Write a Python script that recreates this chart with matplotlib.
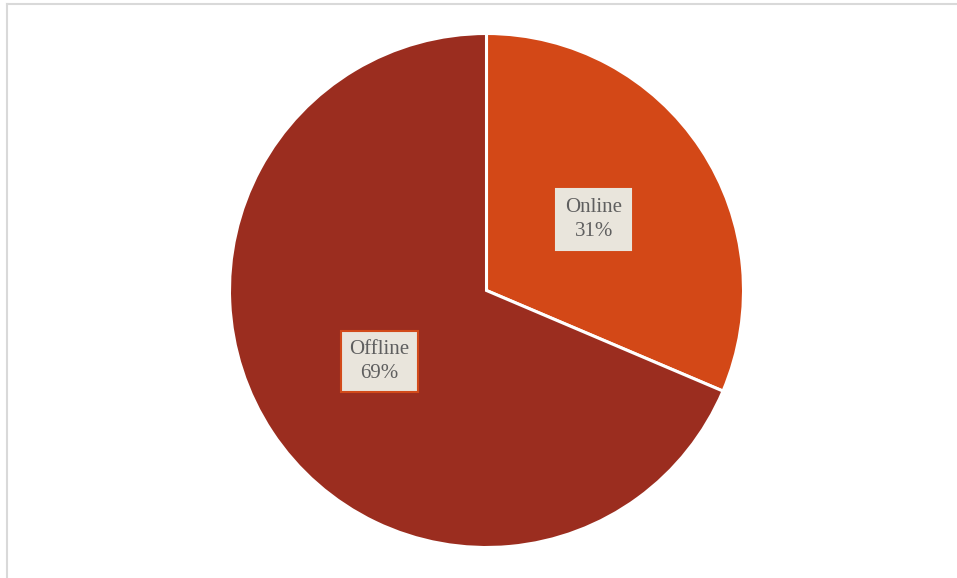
import matplotlib
matplotlib.use("Agg")
import matplotlib.pyplot as plt
from matplotlib.lines import Line2D
import numpy as np

categories = ["Online", "Offline"]
values = [31.4, 68.6]
colors = ["#d34817", "#9b2d1f"]

W, H = 957, 578
fig = plt.figure(figsize=(W / 100, H / 100), dpi=100)
fig.patch.set_facecolor("white")

cx, cy, r = 486.5, 290.5, 257
ax = fig.add_axes([(cx - r) / W, (H - cy - r) / H, 2 * r / W, 2 * r / H])

wedges, _ = ax.pie(values, colors=colors, startangle=90, counterclock=False,
                   radius=1.0, wedgeprops=dict(edgecolor="white", linewidth=2.2))
ax.set_xlim(-1, 1)
ax.set_ylim(-1, 1)
ax.set_aspect("equal")
ax.axis("off")

total = sum(values)
start = 90.0
edgecols = ["#e9e5dc", "#d24a1a"]
for i, (cat, v) in enumerate(zip(categories, values)):
    theta = start - v / total * 360 / 2
    start -= v / total * 360
    x = 0.5 * np.cos(np.radians(theta))
    y = 0.5 * np.sin(np.radians(theta))
    ax.text(x, y, f"{cat}\n{v:.0f}%", ha="center", va="center",
            fontsize=15, family=["Liberation Serif", "DejaVu Serif"], color="#5f5f5f",
            linespacing=1.4,
            bbox=dict(boxstyle="square,pad=0.42", facecolor="#e9e5dc",
                      edgecolor=edgecols[i], linewidth=1.5))

# outer frame lines (top and left)
fig.add_artist(Line2D([6.5 / W, 1], [1 - 3.5 / H, 1 - 3.5 / H], color="#d9d9d9", linewidth=1.5))
fig.add_artist(Line2D([6.5 / W, 6.5 / W], [0, 1 - 3.5 / H], color="#d9d9d9", linewidth=1.5))

fig.savefig("out.png", dpi=100, facecolor="white")
